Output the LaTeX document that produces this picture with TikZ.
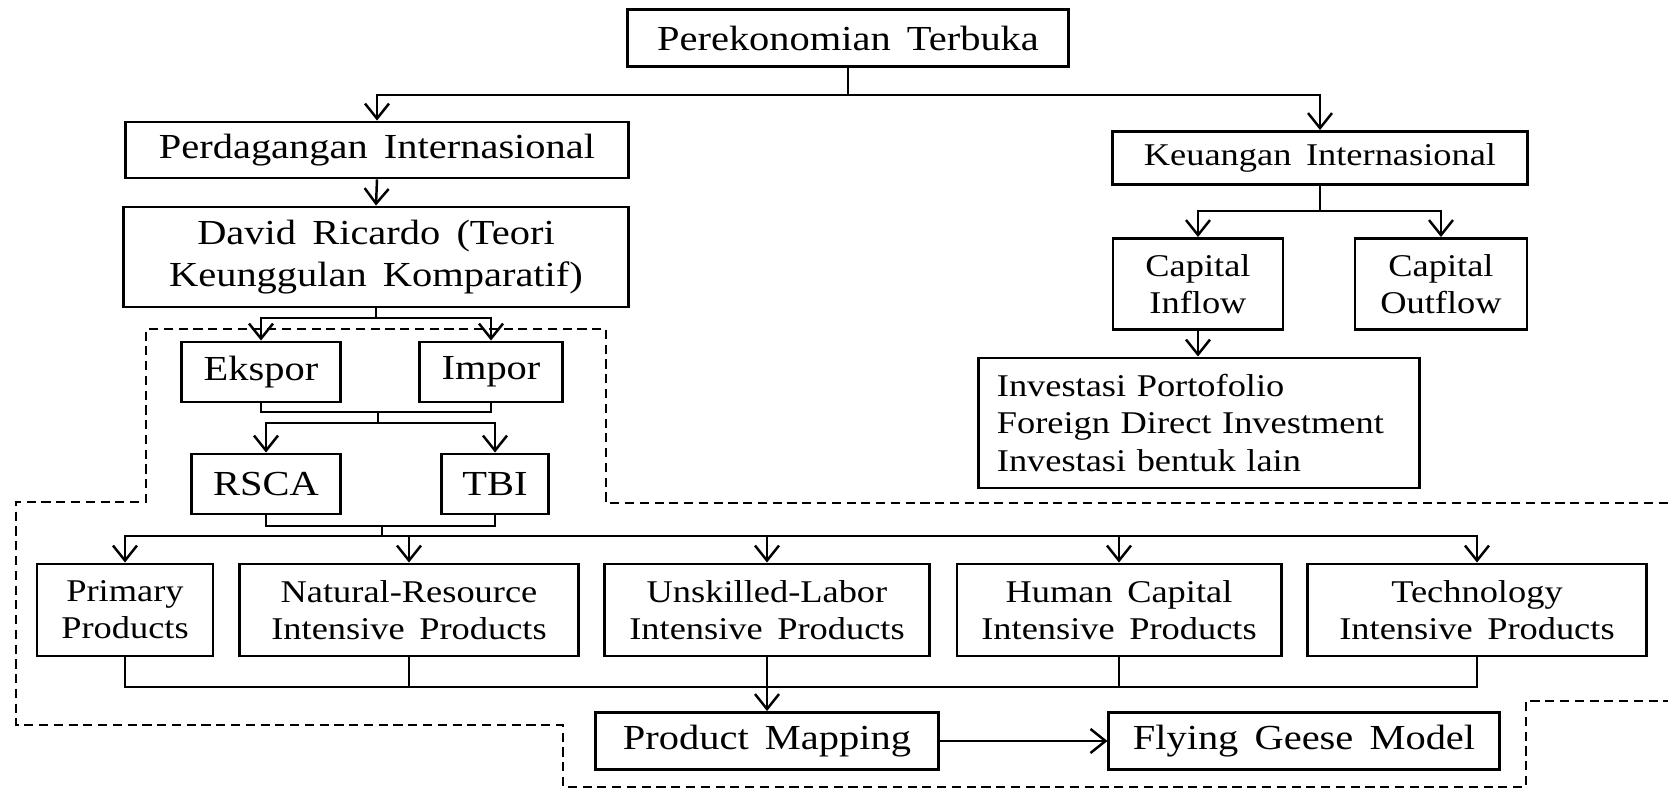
\documentclass[tikz,border=0pt]{standalone}
\usepackage{fontspec}
\setmainfont{Liberation Serif}[FakeStretch=1.15,WordSpace=1.6]
\usetikzlibrary{arrows.meta}
\newcommand{\bigtxt}{\fontsize{10}{12}\selectfont}
\newcommand{\smalltxt}{\fontsize{9}{10.6}\selectfont}
\tikzset{
  box/.style={draw,line width=0.8pt,inner sep=0pt,align=center,font=\bigtxt},
  sbox/.style={box,font=\smalltxt},
  link/.style={line width=0.7pt},
  arr/.style={link,-{Straight Barb[length=1.5mm,width=2.4mm]}},
  zone/.style={line width=0.8pt,dash pattern=on 2.6pt off 1.6pt}
}
\begin{document}
\begin{tikzpicture}[x=0.01cm,y=-0.01cm]
\fill[white] (0,0) rectangle (1668,789);
\useasboundingbox (0,0) rectangle (1668,789);
% boxes
\node[box,minimum width=4.41cm,minimum height=0.57cm] (top) at (848,38) {Perekonomian Terbuka};
\node[box,minimum width=5.03cm,minimum height=0.56cm] (perd) at (377,150) {Perdagangan Internasional};
\node[sbox,minimum width=4.14cm,minimum height=0.53cm] (keu) at (1320,158) {Keuangan Internasional};
\node[box,minimum width=5.04cm,minimum height=1.00cm] (david) at (376,257) {David Ricardo (Teori\\Keunggulan Komparatif)};
\node[box,minimum width=1.59cm,minimum height=0.60cm] (ekspor) at (261,372) {Ekspor};
\node[box,minimum width=1.43cm,minimum height=0.60cm] (impor) at (491,372) {Impor};
\node[box,minimum width=1.49cm,minimum height=0.60cm] (rsca) at (266,484) {RSCA};
\node[box,minimum width=1.07cm,minimum height=0.60cm] (tbi) at (495,484) {TBI};
\node[sbox,minimum width=1.70cm,minimum height=0.91cm] (inflow) at (1198,284) {Capital\\Inflow};
\node[sbox,minimum width=1.72cm,minimum height=0.91cm] (outflow) at (1441,284) {Capital\\Outflow};
\node[sbox,align=left,text width=4.04cm,inner xsep=0.18cm,minimum height=1.30cm] (invest) at (1199,423)
  {Investasi Portofolio\\Foreign Direct Investment\\Investasi bentuk lain};
\node[sbox,minimum width=1.76cm,minimum height=0.92cm] (primary) at (125,610) {Primary\\Products};
\node[sbox,minimum width=3.38cm,minimum height=0.92cm] (natural) at (409,610) {Natural-Resource\\Intensive Products};
\node[sbox,minimum width=3.25cm,minimum height=0.92cm] (unskilled) at (767,610) {Unskilled-Labor\\Intensive Products};
\node[sbox,minimum width=3.24cm,minimum height=0.92cm] (human) at (1119,610) {Human Capital\\Intensive Products};
\node[sbox,minimum width=3.39cm,minimum height=0.92cm] (tech) at (1477,610) {Technology\\Intensive Products};
\node[box,minimum width=3.42cm,minimum height=0.57cm] (mapping) at (767,741) {Product Mapping};
\node[box,minimum width=3.90cm,minimum height=0.57cm] (geese) at (1304,741) {Flying Geese Model};
% junctions
\coordinate (j0) at (848,95);
\coordinate (j1) at (376,318);
\coordinate (j2) at (378,412);
\coordinate (j3) at (378,423);
\coordinate (j4) at (382,526);
\coordinate (j5) at (382,536);
\coordinate (j6) at (767,687);
\coordinate (k1) at (1320,211);
% connectors
\draw[link] (top.south) -- (j0);
\draw[arr] (j0) -| (perd.north);
\draw[arr] (j0) -| (keu.north);
\draw[arr] (perd.south) -- (david.north);
\draw[link] (david.south) -- (j1);
\draw[arr] (j1) -| (ekspor.north);
\draw[arr] (j1) -| (impor.north);
\draw[link] (ekspor.south) |- (j2) -| (impor.south);
\draw[link] (j2) -- (j3);
\draw[arr] (j3) -| (rsca.north);
\draw[arr] (j3) -| (tbi.north);
\draw[link] (rsca.south) |- (j4) -| (tbi.south);
\draw[link] (j4) -- (j5);
\foreach \n in {primary,natural,unskilled,human,tech}
  \draw[arr] (j5) -| (\n.north);
\foreach \n in {primary,natural,human,tech}
  \draw[link] (\n.south) |- (j6);
\draw[arr] (unskilled.south) -- (mapping.north);
\draw[arr] (mapping) -- (geese);
\draw[link] (keu.south) -- (k1);
\draw[arr] (k1) -| (inflow.north);
\draw[arr] (k1) -| (outflow.north);
\draw[arr] (inflow.south) -- (inflow.south |- invest.north);
% dashed zone
\draw[zone] (1668,503) -- (606,503) -- (606,329) -- (146,329) -- (146,502) -- (16,502)
  -- (16,725) -- (563,725) -- (563,787) -- (1526,787) -- (1526,701) -- (1668,701);
\end{tikzpicture}
\end{document}
